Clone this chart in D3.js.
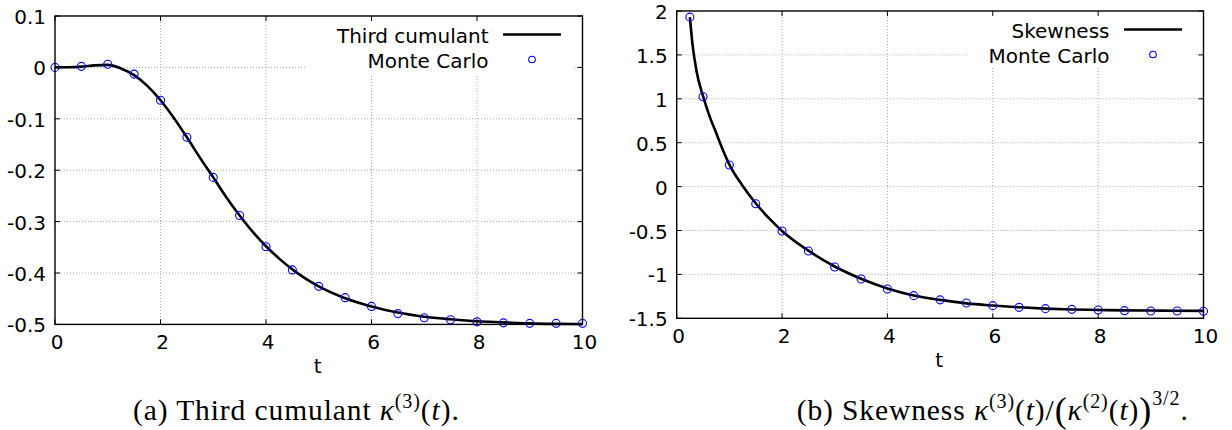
<!DOCTYPE html>
<html>
<head>
<meta charset="utf-8">
<script src="https://cdn.jsdelivr.net/npm/d3@7"></script>
<style>
  body { margin: 0; background: #fff; }
  svg { display: block; }
  .tick-label { font-family: "DejaVu Sans", sans-serif; font-size: 20px; fill: #000; }
  .caption { font-family: "Liberation Serif", serif; font-size: 29.5px; fill: #000; }
</style>
</head>
<body>
<svg width="1232" height="430"></svg>
<script>
// Monte Carlo samples (t = 0, 0.5, ..., 10)
var mc_t = [0, 0.5, 1, 1.5, 2, 2.5, 3, 3.5, 4, 4.5, 5, 5.5, 6, 6.5, 7, 7.5, 8, 8.5, 9, 9.5, 10];
var mc_third = [0, 0.002, 0.006, -0.013, -0.064, -0.136, -0.214, -0.288, -0.349, -0.394, -0.426,
                -0.448, -0.465, -0.479, -0.487, -0.491, -0.495, -0.497, -0.498, -0.498, -0.498];

var mc_skew_t = [0.25, 0.5, 1, 1.5, 2, 2.5, 3, 3.5, 4, 4.5, 5, 5.5, 6, 6.5, 7, 7.5, 8, 8.5, 9, 9.5, 10];
var mc_skew = [1.93, 1.024, 0.246, -0.195, -0.506, -0.733, -0.916, -1.052, -1.166, -1.242, -1.29,
               -1.326, -1.356, -1.375, -1.39, -1.398, -1.405, -1.413, -1.417, -1.417, -1.42];

// analytic curves
var curve_third_t = [0, 0.25, 0.5, 0.75, 1, 1.25, 1.5, 1.75, 2, 2.25, 2.5, 2.75, 3, 3.25, 3.5, 3.75,
                     4, 4.25, 4.5, 4.75, 5, 5.5, 6, 6.5, 7, 7.5, 8, 8.5, 9, 9.5, 10];
var curve_third = [0, 0.0003, 0.0015, 0.004, 0.005, -0.002, -0.015, -0.036, -0.064, -0.098, -0.136,
                   -0.176, -0.214, -0.253, -0.288, -0.320, -0.348, -0.372, -0.393, -0.411, -0.426,
                   -0.449, -0.465, -0.477, -0.485, -0.490, -0.494, -0.496, -0.498, -0.499, -0.4995];

var curve_skew_t = [0.25, 0.3, 0.375, 0.5, 0.625, 0.75, 0.875, 1, 1.25, 1.5, 1.75, 2, 2.5, 3, 3.5,
                    4, 4.5, 5, 5.5, 6, 6.5, 7, 7.5, 8, 8.5, 9, 9.5, 10];
var curve_skew = [1.93, 1.62, 1.32, 1.03, 0.80, 0.61, 0.42, 0.25, 0.01, -0.19, -0.36, -0.505, -0.73,
                  -0.91, -1.05, -1.16, -1.24, -1.29, -1.33, -1.355, -1.375, -1.39, -1.40, -1.405,
                  -1.41, -1.412, -1.414, -1.415];

var x_ticks = [0, 2, 4, 6, 8, 10];
var y_ticks_third = [0.1, 0, -0.1, -0.2, -0.3, -0.4, -0.5];
var y_ticks_skew = [2, 1.5, 1, 0.5, 0, -0.5, -1, -1.5];

var svg = d3.select("svg");
svg.append("rect").attr("width", 1232).attr("height", 430).attr("fill", "#fff");

function panel(cfg) {
    var x = d3.scaleLinear().domain([0, 10]).range([cfg.l, cfg.r]);
    var y = d3.scaleLinear().domain(cfg.ydom).range([cfg.b, cfg.t]);
    var g = svg.append("g");

    // grid
    g.selectAll(".gx").data(x_ticks.filter(function (d) { return d > 0 && d < 10; }))
        .enter().append("line")
        .attr("x1", function (d) { return x(d); }).attr("x2", function (d) { return x(d); })
        .attr("y1", cfg.t).attr("y2", cfg.b)
        .style("stroke", "#a8a8a8").style("stroke-width", 1).style("stroke-dasharray", "1,2");
    g.selectAll(".gy").data(cfg.yticks.filter(function (d) { return d != cfg.ydom[0] && d != cfg.ydom[1]; }))
        .enter().append("line")
        .attr("x1", cfg.l).attr("x2", cfg.r)
        .attr("y1", function (d) { return y(d); }).attr("y2", function (d) { return y(d); })
        .style("stroke", "#a8a8a8").style("stroke-width", 1).style("stroke-dasharray", "1,2");

    // legend background hides the grid
    g.append("rect")
        .attr("x", cfg.r - cfg.boxW).attr("y", cfg.t + 1)
        .attr("width", cfg.boxW - 9).attr("height", cfg.boxH)
        .attr("fill", "#fff");

    // analytic line
    var line = d3.line()
        .x(function (d) { return x(d[0]); })
        .y(function (d) { return y(d[1]); })
        .curve(d3.curveMonotoneX);
    g.append("path")
        .datum(d3.zip(cfg.ct, cfg.cv))
        .attr("d", line)
        .attr("fill", "none")
        .style("stroke", "#000").style("stroke-width", 2.6);

    // Monte Carlo circles
    g.selectAll(".mc").data(d3.zip(cfg.mt, cfg.mv))
        .enter().append("circle")
        .attr("cx", function (d) { return x(d[0]); })
        .attr("cy", function (d) { return y(d[1]); })
        .attr("r", 4)
        .attr("fill", "none")
        .style("stroke", "#0000ff").style("stroke-width", 1.1);

    // ticks (inward, mirrored)
    var tl = 5;
    x_ticks.forEach(function (d) {
        g.append("line").attr("x1", x(d)).attr("x2", x(d)).attr("y1", cfg.b).attr("y2", cfg.b - tl)
            .style("stroke", "#000").style("stroke-width", 1);
        g.append("line").attr("x1", x(d)).attr("x2", x(d)).attr("y1", cfg.t).attr("y2", cfg.t + tl)
            .style("stroke", "#000").style("stroke-width", 1);
    });
    cfg.yticks.forEach(function (d) {
        g.append("line").attr("x1", cfg.l).attr("x2", cfg.l + tl).attr("y1", y(d)).attr("y2", y(d))
            .style("stroke", "#000").style("stroke-width", 1);
        g.append("line").attr("x1", cfg.r).attr("x2", cfg.r - tl).attr("y1", y(d)).attr("y2", y(d))
            .style("stroke", "#000").style("stroke-width", 1);
    });

    // border
    g.append("rect")
        .attr("x", cfg.l).attr("y", cfg.t)
        .attr("width", cfg.r - cfg.l).attr("height", cfg.b - cfg.t)
        .attr("fill", "none")
        .style("stroke", "#000").style("stroke-width", 1.4);

    // tick labels
    g.selectAll(".xl").data(x_ticks).enter().append("text")
        .attr("class", "tick-label")
        .attr("x", function (d) { return x(d) + 2; })
        .attr("y", cfg.b + 25)
        .attr("text-anchor", "middle")
        .text(function (d) { return d; });
    g.selectAll(".yl").data(cfg.yticks).enter().append("text")
        .attr("class", "tick-label")
        .attr("x", cfg.l - 9)
        .attr("y", function (d) { return y(d) + 8; })
        .attr("text-anchor", "end")
        .text(function (d) { return d; });

    g.append("text")
        .attr("class", "tick-label")
        .attr("x", (cfg.l + cfg.r) / 2 - 1)
        .attr("y", cfg.b + 49)
        .attr("text-anchor", "middle")
        .text("t");

    // legend
    g.append("text").attr("class", "tick-label")
        .attr("x", cfg.r - 94).attr("y", cfg.t + 27)
        .attr("text-anchor", "end").text(cfg.name);
    g.append("line")
        .attr("x1", cfg.r - 79.5).attr("x2", cfg.r - 21.5)
        .attr("y1", cfg.t + 18.5).attr("y2", cfg.t + 18.5)
        .style("stroke", "#000").style("stroke-width", 2.6);
    g.append("text").attr("class", "tick-label")
        .attr("x", cfg.r - 94).attr("y", cfg.t + 52)
        .attr("text-anchor", "end").text("Monte Carlo");
    g.append("circle")
        .attr("cx", cfg.r - 50.5).attr("cy", cfg.t + 43.5).attr("r", 3.3)
        .attr("fill", "none")
        .style("stroke", "#0000ff").style("stroke-width", 1.1);
}

panel({ l: 55, r: 582.5, t: 16, b: 324.4, ydom: [-0.5, 0.1], yticks: y_ticks_third,
        ct: curve_third_t, cv: curve_third, mt: mc_t, mv: mc_third,
        name: "Third cumulant", boxW: 277, boxH: 58 });
panel({ l: 676.7, r: 1203.5, t: 11, b: 318.3, ydom: [-1.5, 2], yticks: y_ticks_skew,
        ct: curve_skew_t, cv: curve_skew, mt: mc_skew_t, mv: mc_skew,
        name: "Skewness", boxW: 235.5, boxH: 55 });

// captions
var capA = svg.append("text").attr("class", "caption").attr("x", 133).attr("y", 419.5)
    .style("letter-spacing", "0.9px");
capA.append("tspan").text("(a) Third cumulant ");
capA.append("tspan").style("font-style", "italic").text("κ");
capA.append("tspan").attr("dy", -12).style("font-size", "20px").text("(3)");
capA.append("tspan").attr("dy", 12).text("(");
capA.append("tspan").style("font-style", "italic").text("t");
capA.append("tspan").text(").");

var capB = svg.append("text").attr("class", "caption").attr("x", 796.7).attr("y", 419.5)
    .style("letter-spacing", "0.9px");
capB.append("tspan").text("(b) Skewness ");
capB.append("tspan").style("font-style", "italic").text("κ");
capB.append("tspan").attr("dy", -12).style("font-size", "20px").text("(3)");
capB.append("tspan").attr("dy", 12).text("(");
capB.append("tspan").style("font-style", "italic").text("t");
capB.append("tspan").text(")/");
capB.append("tspan").style("font-size", "36px").attr("dy", 2).text("(");
capB.append("tspan").attr("dy", -2).style("font-style", "italic").text("κ");
capB.append("tspan").attr("dy", -12).style("font-size", "20px").text("(2)");
capB.append("tspan").attr("dy", 12).text("(");
capB.append("tspan").style("font-style", "italic").text("t");
capB.append("tspan").text(")");
capB.append("tspan").style("font-size", "36px").attr("dy", 2).text(")");
capB.append("tspan").attr("dy", -17).style("font-size", "20px").text("3/2");
capB.append("tspan").attr("dy", 15).text(".");
</script>
</body>
</html>
